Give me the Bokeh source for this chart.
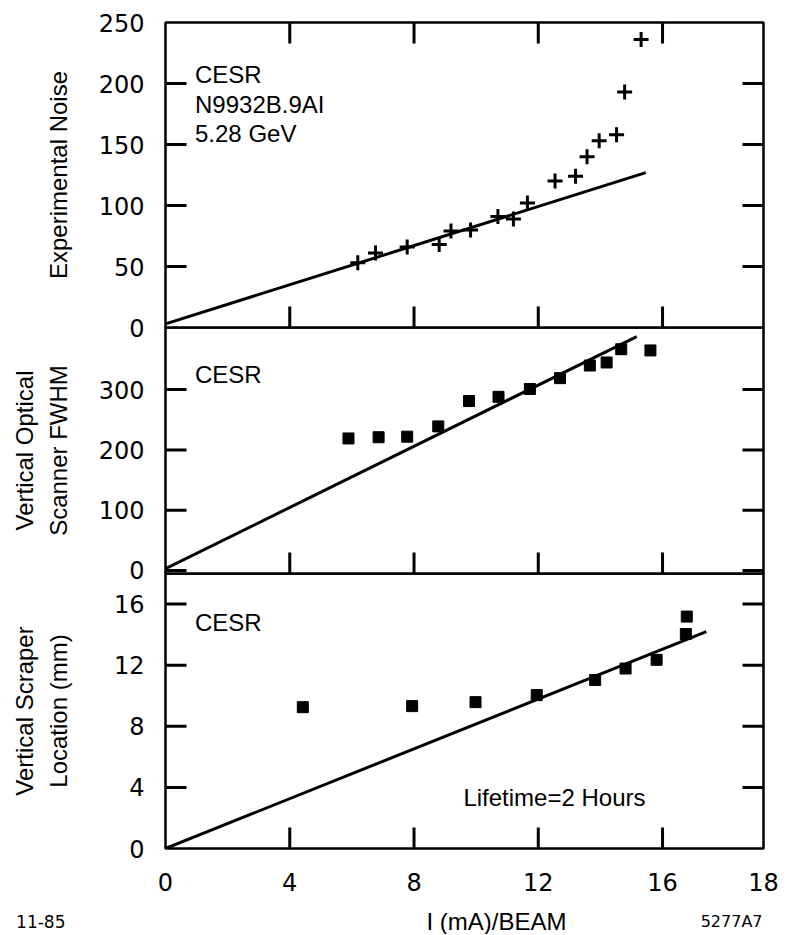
from bokeh.plotting import figure
from bokeh.models import Range1d, LinearAxis, FixedTicker, Label, CustomJSTickFormatter
from bokeh.layouts import column
from bokeh.embed import file_html
from bokeh.resources import INLINE

# ---------------- data ----------------
X_END = 19.25                      # right edge of frame (labelled "18" in the original)
x_ticks = [0, 4, 8, 12, 16, X_END]
x_tick_labels = ["0", "4", "8", "12", "16", "18"]
x_inner_ticks = [4, 8, 12, 16]

noise_range = (0, 250)
noise_ticks = [0, 50, 100, 150, 200, 250]
fwhm_range = (-5, 403)
fwhm_ticks = [0, 100, 200, 300]
scraper_range = (0, 18)
scraper_ticks = [0, 4, 8, 12, 16]

noise_I = [6.19, 6.76, 7.78, 8.81, 9.19, 9.82, 10.70, 11.20, 11.65, 12.54, 13.20, 13.57, 13.96, 14.52, 14.78, 15.31]
noise_val = [53, 61, 66, 68, 79, 80, 91, 89, 102, 120, 124, 140, 153, 158, 193, 236]
noise_fit_I = [0, 15.46]
noise_fit_val = [3, 127]

fwhm_I = [5.89, 6.86, 7.78, 8.78, 9.77, 10.72, 11.73, 12.70, 13.66, 14.20, 14.67, 15.61]
fwhm_val = [219, 221, 222, 239, 281, 288, 301, 319, 340, 345, 367, 365]
fwhm_fit_I = [0, 15.17]
fwhm_fit_val = [3, 388]

scraper_I = [4.42, 7.94, 9.98, 11.95, 13.83, 14.81, 15.81, 16.75, 16.78]
scraper_val = [9.25, 9.32, 9.58, 10.04, 11.03, 11.78, 12.35, 14.04, 15.18]
scraper_fit_I = [0, 17.41]
scraper_fit_val = [0, 14.2]

# ---------------- style ----------------
TICK_FONT = "DejaVu Sans"
TEXT_FONT = "Liberation Sans"
W = 785
LEFT = 165
RIGHT = 22
FRAME_W = W - LEFT - RIGHT
LW = 2.5
TICK_LEN = 21          # px, ticks point into the frame

xr = Range1d(0, X_END)


def base_fig(height, yr, top, bottom):
    p = figure(width=W, height=height, x_range=xr, y_range=Range1d(*yr),
               output_backend="svg", toolbar_location=None, title=None,
               x_axis_location=None, y_axis_location=None,
               min_border_left=LEFT, min_border_right=RIGHT,
               min_border_top=top, min_border_bottom=bottom,
               border_fill_color=None, background_fill_color=None)
    p.outline_line_color = "black"
    p.outline_line_width = LW
    p.grid.grid_line_color = None
    return p


def label_axis(p, place, tick_list, standoff, label_list=None):
    ax = LinearAxis(ticker=FixedTicker(ticks=tick_list))
    ax.major_tick_in = 0
    ax.major_tick_out = 0
    ax.minor_tick_in = 0
    ax.minor_tick_out = 0
    ax.axis_line_color = None
    ax.major_label_text_font = TICK_FONT
    ax.major_label_text_font_size = "24px"
    ax.major_label_text_color = "black"
    ax.major_label_standoff = standoff
    if label_list is not None:
        ax.formatter = CustomJSTickFormatter(
            args=dict(tpos=tick_list, tlab=label_list),
            code="const i = tpos.indexOf(tick); return i >= 0 ? tlab[i] : '';")
    p.add_layout(ax, place)
    return ax


def inner_ticks(p, yr, yticks, frame_h, top=False):
    # tick marks drawn inward from the frame edges (tick length converted px -> data)
    dx = TICK_LEN * X_END / FRAME_W
    dy = TICK_LEN * (yr[1] - yr[0]) / frame_h
    ys = [t for t in yticks if yr[0] < t < yr[1]]
    kw = dict(line_width=3, line_color="black")
    n = len(ys)
    m = len(x_inner_ticks)
    p.segment(x0=[0] * n, y0=ys, x1=[dx] * n, y1=ys, **kw)
    p.segment(x0=[X_END] * n, y0=ys, x1=[X_END - dx] * n, y1=ys, **kw)
    p.segment(x0=x_inner_ticks, y0=[yr[0]] * m, x1=x_inner_ticks, y1=[yr[0] + dy] * m, **kw)
    if top:
        p.segment(x0=x_inner_ticks, y0=[yr[1]] * m, x1=x_inner_ticks, y1=[yr[1] - dy] * m, **kw)


def ylab(ax, text, standoff):
    ax.axis_label = text
    ax.axis_label_text_font = TEXT_FONT
    ax.axis_label_text_font_size = "24px"
    ax.axis_label_text_font_style = "normal"
    ax.axis_label_text_color = "black"
    ax.axis_label_standoff = standoff
    ax.axis_label_text_line_height = 1.25


def txt(p, x, y, s, **kw):
    p.add_layout(Label(x=x, y=y, text=s, text_font=TEXT_FONT, text_font_size="24px",
                       text_color="black", text_baseline="middle", text_align="left", **kw))


# ---------------- top panel ----------------
p1 = base_fig(341, noise_range, 22, 14)
a = label_axis(p1, "left", noise_ticks, 21)
ylab(a, "Experimental Noise", 24)
inner_ticks(p1, noise_range, noise_ticks, 305, top=True)
p1.line(noise_fit_I, noise_fit_val, line_width=3, color="black")
p1.scatter(noise_I, noise_val, marker="cross", size=15, line_width=3, color="black")
txt(p1, 0.95, 207.5, "CESR")
txt(p1, 0.95, 183, "N9932B.9AI")
txt(p1, 0.95, 159, "5.28 GeV")
p1.margin = 0

# ---------------- middle panel ----------------
p2 = base_fig(260, fwhm_range, 0, 14)
a = label_axis(p2, "left", fwhm_ticks, 21)
ylab(a, "Vertical Optical\nScanner FWHM", 24)
inner_ticks(p2, fwhm_range, fwhm_ticks, 246)
p2.line(fwhm_fit_I, fwhm_fit_val, line_width=3, color="black")
p2.scatter(fwhm_I, fwhm_val, marker="square", size=11, color="black")
txt(p2, 0.95, 325, "CESR")
p2.margin = (-14, 0, 0, 0)

# ---------------- bottom panel ----------------
p3 = base_fig(335, scraper_range, 0, 60)
a = label_axis(p3, "left", scraper_ticks, 21)
ylab(a, "Vertical Scraper\nLocation (mm)", 39)
label_axis(p3, "below", x_ticks, 24, x_tick_labels)
inner_ticks(p3, scraper_range, scraper_ticks, 275)
p3.line(scraper_fit_I, scraper_fit_val, line_width=3, color="black")
p3.scatter(scraper_I, scraper_val, marker="square", size=11, color="black")
txt(p3, 0.95, 14.8, "CESR")
txt(p3, 9.59, 3.35, "Lifetime=2 Hours")
p3.margin = (-14, 0, 0, 0)

# ---------------- footer strip (axis title and figure codes) ----------------
FOOT_H = 26
p4 = figure(width=W, height=FOOT_H, x_range=Range1d(0, X_END), y_range=Range1d(0, FOOT_H),
            output_backend="svg", toolbar_location=None, title=None,
            x_axis_location=None, y_axis_location=None,
            min_border_left=LEFT, min_border_right=RIGHT,
            min_border_top=0, min_border_bottom=0,
            border_fill_color=None, background_fill_color=None, outline_line_color=None)
p4.grid.grid_line_color = None
fa = LinearAxis(ticker=FixedTicker(ticks=[]))
fa.axis_line_color = None
fa.major_tick_in = 0
fa.major_tick_out = 0
fa.minor_tick_in = 0
fa.minor_tick_out = 0
fa.axis_label = "11-85"
fa.axis_label_orientation = "horizontal"
fa.axis_label_text_font = TICK_FONT
fa.axis_label_text_font_size = "17px"
fa.axis_label_text_font_style = "normal"
fa.axis_label_text_color = "black"
fa.axis_label_standoff = 100
p4.add_layout(fa, "left")
p4.add_layout(Label(x=331, y=13, x_units="screen", y_units="screen", text="I (mA)/BEAM",
                    text_font=TEXT_FONT, text_font_size="24px", text_color="black",
                    text_align="center", text_baseline="middle"))
p4.add_layout(Label(x=FRAME_W - 1, y=13, x_units="screen", y_units="screen", text="5277A7",
                    text_font=TICK_FONT, text_font_size="16px", text_color="black",
                    text_align="right", text_baseline="middle"))
p4.margin = 0

layout = column(p1, p2, p3, p4)
layout.margin = 0

open("out.html", "w").write(file_html(layout, INLINE))
